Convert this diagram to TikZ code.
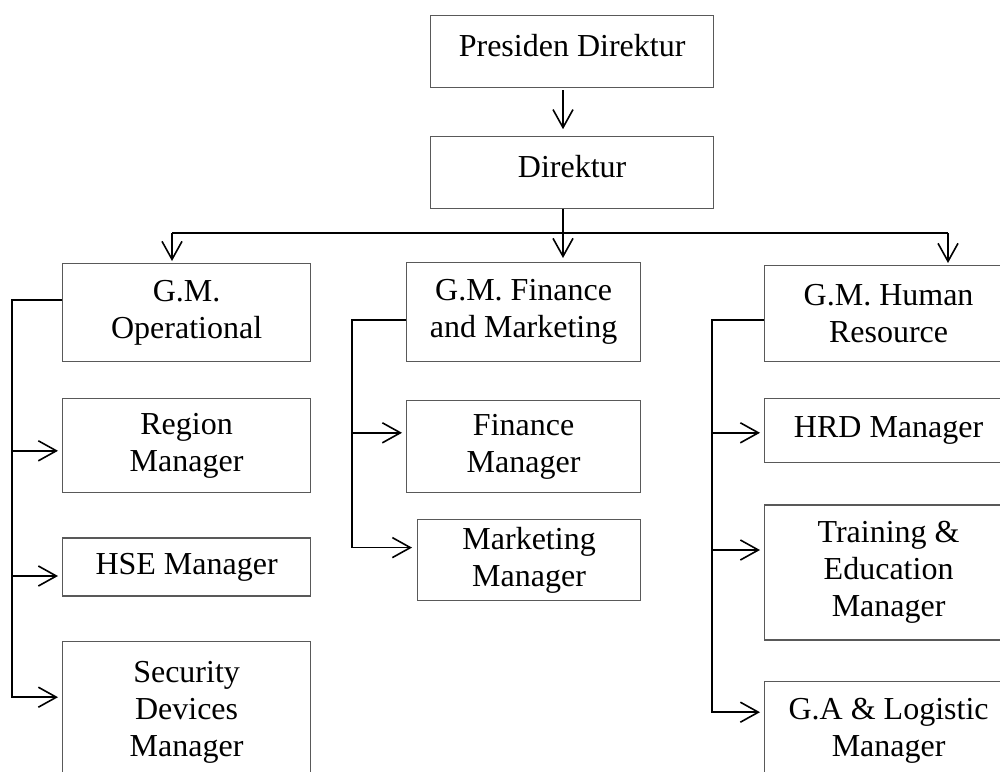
\documentclass[tikz,border=0pt]{standalone}
\usepackage{fontspec}
\setmainfont{Liberation Serif}
\usetikzlibrary{arrows.meta, positioning}

\begin{document}
\begin{tikzpicture}[x=0.5pt, y=-0.5pt, >={Straight Barb[length=9pt,width=10pt]},
			box/.style={draw=black!65, line width=0.6pt, rectangle, anchor=north west, align=center, inner sep=2pt, font=\fontsize{16}{18.5}\selectfont},
			link/.style={line width=0.8pt}]
			
			\useasboundingbox (0,0) rectangle (1000,771);
			
			% Top management
			\node[box, minimum width=141.5pt, minimum height=36pt, text depth=6pt] (pres) at (430,15) {Presiden Direktur};
			\node[box, minimum width=141.5pt, minimum height=36pt, text depth=6pt, below=24pt of pres.south west, anchor=north west] (dir) {Direktur};
			
			% General managers
			\node[box, minimum width=124pt, minimum height=49pt] (gmop) at (62,263) {G.M.\\Operational};
			\node[box, minimum width=117pt, minimum height=49.5pt] (gmfin) at (406,262) {G.M. Finance\\and Marketing};
			\node[box, minimum width=124pt, minimum height=48pt] (gmhr) at (764,265) {G.M. Human\\Resource};
			
			% Managers under G.M. Operational
			\node[box, minimum width=124pt, minimum height=47pt, below=18pt of gmop.south west, anchor=north west] (region) {Region\\Manager};
			\node[box, minimum width=124pt, minimum height=29pt, below=22pt of region.south west, anchor=north west] (hse) {HSE Manager};
			\node[box, minimum width=124pt, minimum height=71pt, below=22pt of hse.south west, anchor=north west] (secur) {Security\\Devices\\Manager};
			
			% Managers under G.M. Finance and Marketing
			\node[box, minimum width=117pt, minimum height=46pt, below=19pt of gmfin.south west, anchor=north west] (finmgr) {Finance\\Manager};
			\node[box, minimum width=111.5pt, minimum height=40.5pt] (mktmgr) at (417,519) {Marketing\\Manager};
			
			% Managers under G.M. Human Resource
			\node[box, minimum width=124pt, minimum height=32pt, below=18pt of gmhr.south west, anchor=north west] (hrd) {HRD Manager};
			\node[box, minimum width=124pt, minimum height=67.5pt, below=20.5pt of hrd.south west, anchor=north west] (train) {Training \&\\Education\\Manager};
			\node[box, minimum width=124pt, minimum height=50pt, below=20pt of train.south west, anchor=north west] (ga) {G.A \& Logistic\\Manager};
			
			% Presiden Direktur to Direktur
			\coordinate (bus) at (563,233);
			\draw[link, ->, shorten <=1pt, shorten >=3.5pt] (bus |- pres.south) -- (bus |- dir.north);
			
			% Direktur to the general managers
			\coordinate (busL) at (172,233);
			\coordinate (busR) at (948,233);
			\draw[link] (bus |- dir.south) -- (bus);
			\draw[link] (busL) -- (busR);
			\draw[link, ->, shorten >=2pt] (bus) -- (bus |- gmfin.north);
			\draw[link, ->, shorten >=1pt] (busL) -- (busL |- gmop.north);
			\draw[link, ->, shorten >=1pt] (busR) -- (busR |- gmhr.north);
			
			% G.M. Operational branch
			\coordinate (opL) at (12,300);
			\coordinate (regionIn) at ([yshift=-2.5pt]region.west);
			\coordinate (hseIn) at ([yshift=-4.5pt]hse.west);
			\draw[link, ->, shorten >=2pt] (opL -| gmop.west) -- (opL) |- ([yshift=7.5pt]secur.west);
			\draw[link, ->, shorten >=2pt] (opL |- regionIn) -- (regionIn);
			\draw[link, ->, shorten >=2pt] (opL |- hseIn) -- (hseIn);
			
			% G.M. Finance and Marketing branch
			\coordinate (finL) at (352,320);
			\coordinate (finIn) at ([yshift=7pt]finmgr.west);
			\draw[link, ->, shorten >=2.5pt] (finL -| gmfin.west) -- (finL) |- ([yshift=6.25pt]mktmgr.west);
			\draw[link, ->, shorten >=2pt] (finL |- finIn) -- (finIn);
			
			% G.M. Human Resource branch
			\coordinate (hrL) at (712,320);
			\coordinate (hrdIn) at ([yshift=-1pt]hrd.west);
			\coordinate (trainIn) at ([yshift=11.25pt]train.west);
			\draw[link, ->, shorten >=2pt] (hrL -| gmhr.west) -- (hrL) |- ([yshift=9.5pt]ga.west);
			\draw[link, ->, shorten >=2pt] (hrL |- hrdIn) -- (hrdIn);
			\draw[link, ->, shorten >=2pt] (hrL |- trainIn) -- (trainIn);
		\end{tikzpicture}
\end{document}
